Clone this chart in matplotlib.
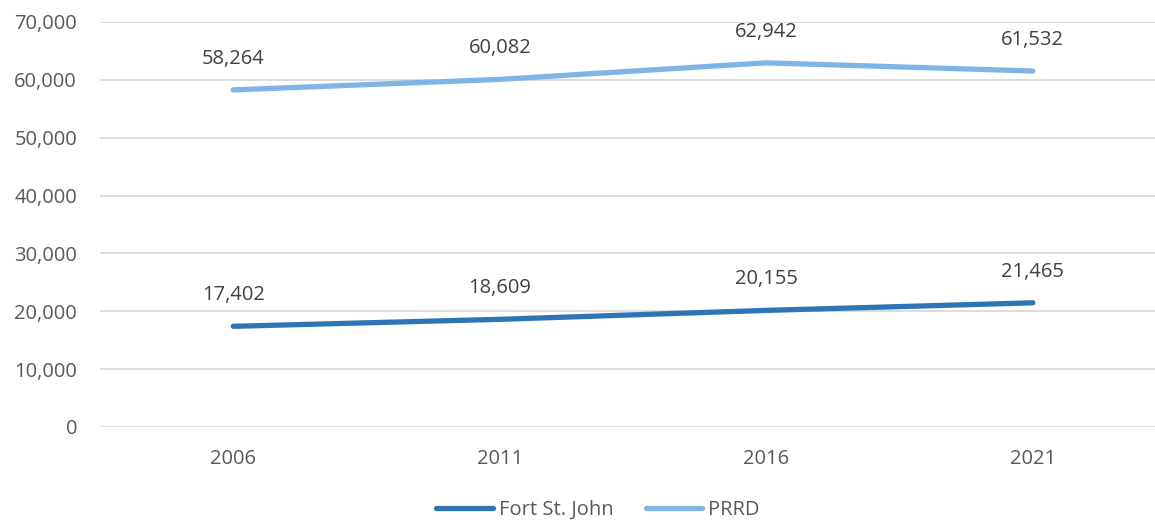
import matplotlib
matplotlib.use("Agg")
import matplotlib.pyplot as plt

years = ["2006", "2011", "2016", "2021"]
fort_st_john = [17402, 18609, 20155, 21465]
prrd = [58264, 60082, 62942, 61532]
yticks = [0, 10000, 20000, 30000, 40000, 50000, 60000, 70000]

plt.rcParams['font.family'] = ['Open Sans', 'DejaVu Sans']
txt = '#595959'

fig = plt.figure(figsize=(11.55, 5.21), dpi=100)
ax = fig.add_axes([100/1155, 94/521, 1066/1155, 405/521])
x = list(range(len(years)))
l1, = ax.plot(x, fort_st_john, color='#2E75B6', lw=3.8, solid_capstyle='round', label='Fort St. John')
l2, = ax.plot(x, prrd, color='#7EB4E6', lw=3.8, solid_capstyle='round', label='PRRD')
for xs, ys in [(x, fort_st_john), (x, prrd)]:
    for xi, yi in zip(xs, ys):
        ax.annotate(f"{yi:,}", (xi, yi), xytext=(0, 22.5), textcoords='offset points',
                    ha='center', va='center', fontsize=14.5, color='#404040')
ax.set_xlim(-0.5, 3.5)
ax.set_ylim(0, 70000)
ax.set_yticks(yticks)
ax.set_yticklabels([f"{v:,}" for v in yticks])
ax.set_xticks(x)
ax.set_xticklabels(years)
ax.grid(axis='y', color='#D9D9D9', lw=1.3)
ax.set_axisbelow(True)
for s in ax.spines.values():
    s.set_visible(False)
ax.tick_params(length=0, labelsize=14.5, colors=txt)
ax.tick_params(axis='y', pad=16.5)
ax.tick_params(axis='x', pad=16)
fig.legend(handles=[l1, l2], loc='center', bbox_to_anchor=(598/1155, 1 - 510/521),
           ncol=2, frameon=False, fontsize=14.5, labelcolor=txt, handlelength=2.8,
           handletextpad=0.3, columnspacing=1.6)
fig.savefig('out.png', dpi=100)
